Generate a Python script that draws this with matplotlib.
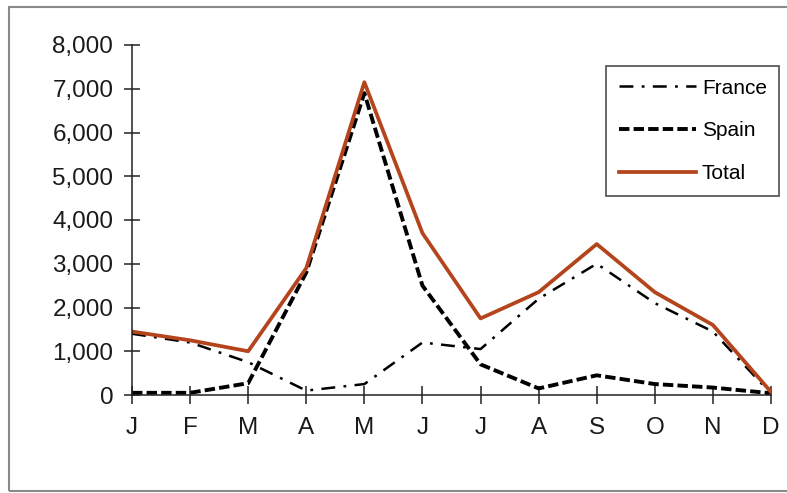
import matplotlib
matplotlib.use('Agg')
import matplotlib.pyplot as plt
from matplotlib.patches import Rectangle
from matplotlib.ticker import FuncFormatter

months = ['J', 'F', 'M', 'A', 'M', 'J', 'J', 'A', 'S', 'O', 'N', 'D']
france = [1400, 1200, 750, 100, 250, 1200, 1050, 2200, 3000, 2100, 1450, 30]
spain = [50, 50, 270, 2800, 6900, 2500, 700, 150, 450, 250, 170, 40]
total = [1450, 1250, 1000, 2900, 7150, 3700, 1750, 2350, 3450, 2350, 1600, 70]

plt.rcParams['font.family'] = ['Liberation Sans', 'DejaVu Sans']
plt.rcParams['lines.scale_dashes'] = False

fig = plt.figure(figsize=(7.87, 4.93), dpi=100)
fig.patch.set_facecolor('white')

# grey outer frame
fig.add_artist(Rectangle((9 / 787, 2 / 493), 1.0, 484 / 493, transform=fig.transFigure,
                         fill=False, edgecolor='#8a8a8a', linewidth=1.5))

ax = fig.add_axes([132 / 787, 1 - 395 / 493, (771 - 132) / 787, 350 / 493])
ax.patch.set_alpha(0)

x = list(range(len(months)))
ax.plot(x, france, color='black', linewidth=1.8, linestyle=(0, (10, 6, 2, 6)), label='France')
ax.plot(x, spain, color='black', linewidth=2.8, linestyle=(0, (7.5, 3)), label='Spain')
ax.plot(x, total, color='#B4441C', linewidth=2.7, label='Total')

ax.set_xlim(0, 11)
ax.set_ylim(0, 8000)
ax.set_xticks(x)
ax.set_xticklabels(months)
ax.set_yticks(range(0, 8001, 1000))
ax.yaxis.set_major_formatter(FuncFormatter(lambda v, p: f'{int(v):,}'))

for s in ['top', 'right']:
    ax.spines[s].set_visible(False)
for s in ['left', 'bottom']:
    ax.spines[s].set_linewidth(1.1)
    ax.spines[s].set_color('#222222')

ax.tick_params(axis='y', direction='inout', length=11, width=1.1, color='#222222',
               labelsize=17.5, pad=8, labelcolor='#1a1a1a')
ax.tick_params(axis='x', direction='inout', length=13, width=1.1, color='#222222',
               labelsize=17.5, pad=9, labelcolor='#1a1a1a')

leg = ax.legend(loc='upper left', bbox_to_anchor=(606 / 787, 1 - 66 / 493),
                bbox_transform=fig.transFigure, fontsize=15, frameon=True,
                fancybox=False, edgecolor='#333333', handlelength=3.7,
                handletextpad=0.3, labelspacing=1.15, borderpad=0.6,
                borderaxespad=0)
leg.get_frame().set_linewidth(1.3)

plt.savefig('out.png', dpi=100, facecolor='white')
